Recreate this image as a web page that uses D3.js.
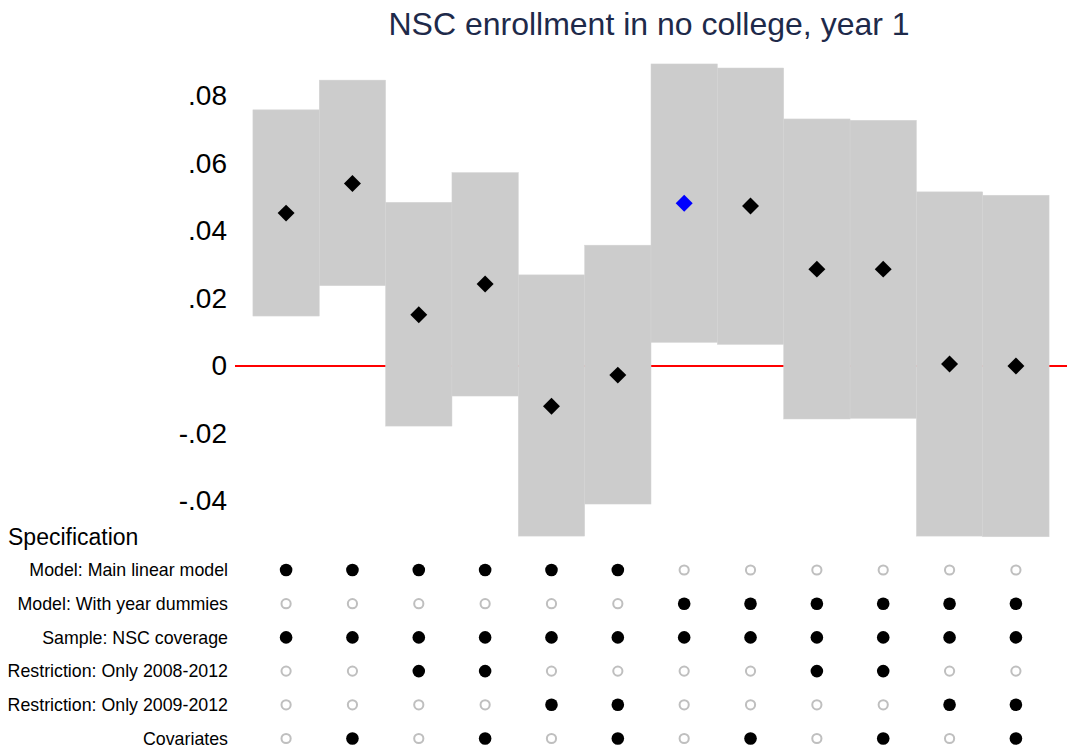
<!DOCTYPE html>
<html>
<head>
<meta charset="utf-8">
<script src="https://cdn.jsdelivr.net/npm/d3@7"></script>
<style>
  body { margin: 0; background: #fff; }
  svg { display: block; font-family: "Liberation Sans", Arial, sans-serif; }
</style>
</head>
<body>
<svg id="chart" width="1067" height="751"></svg>
<script>
// estimates and confidence bounds per specification
const estimates = [0.0453, 0.0541, 0.0152, 0.0243, -0.0119, -0.0027, 0.0482, 0.0474, 0.0287, 0.0287, 0.0006, 0.0000];
const ciLow     = [0.0148, 0.0238, -0.0178, -0.0089, -0.0504, -0.0409, 0.0070, 0.0064, -0.0157, -0.0155, -0.0504, -0.0506];
const ciHigh    = [0.0759, 0.0847, 0.0485, 0.0573, 0.0270, 0.0358, 0.0895, 0.0883, 0.0732, 0.0728, 0.0516, 0.0506];
const highlight = 6; // index of the main (blue) estimate

const yTicks = [-0.04, -0.02, 0, 0.02, 0.04, 0.06, 0.08];
const yTickLabels = ["-.04", "-.02", "0", ".02", ".04", ".06", ".08"];

const specLabels = [
  "Model: Main linear model",
  "Model: With year dummies",
  "Sample: NSC coverage",
  "Restriction: Only 2008-2012",
  "Restriction: Only 2009-2012",
  "Covariates"
];
const specMain     = [1,1,1,1,1,1,0,0,0,0,0,0];
const specDummies  = [0,0,0,0,0,0,1,1,1,1,1,1];
const specNSC      = [1,1,1,1,1,1,1,1,1,1,1,1];
const spec0812     = [0,0,1,1,0,0,0,0,1,1,0,0];
const spec0912     = [0,0,0,0,1,1,0,0,0,0,1,1];
const specCovar    = [0,1,0,1,0,1,0,1,0,1,0,1];
const specRows = [specMain, specDummies, specNSC, spec0812, spec0912, specCovar];

const svg = d3.select("#chart");
const cols = d3.range(estimates.length);

const x = d3.scaleBand()
  .domain(cols)
  .range([235, 1067])
  .paddingInner(0)
  .paddingOuter(0.27);

const y = d3.scaleLinear()
  .domain([-0.05, 0.09])
  .range([534.75, 62.25]);

// title
svg.append("text")
  .attr("x", 649)
  .attr("y", 35)
  .attr("text-anchor", "middle")
  .style("font-size", "32px")
  .style("fill", "#1e2a4a")
  .text("NSC enrollment in no college, year 1");

// zero line (under the bars)
svg.append("line")
  .attr("x1", 235).attr("x2", 1067)
  .attr("y1", y(0)).attr("y2", y(0))
  .attr("stroke", "#ff0000")
  .attr("stroke-width", 2);

// confidence bars
svg.append("g").selectAll("rect")
  .data(cols)
  .join("rect")
  .attr("x", i => x(i))
  .attr("width", x.bandwidth())
  .attr("y", i => y(ciHigh[i]))
  .attr("height", i => y(ciLow[i]) - y(ciHigh[i]))
  .attr("fill", "#cccccc")
  .attr("stroke", "#d4d4d4")
  .attr("stroke-width", 0.5);

// y axis
const yAxis = svg.append("g")
  .attr("transform", "translate(235,0)")
  .call(d3.axisLeft(y)
    .tickValues(yTicks)
    .tickSize(0)
    .tickPadding(8)
    .tickFormat((d, i) => yTickLabels[i]));
yAxis.select(".domain").remove();
yAxis.selectAll("text")
  .style("font-size", "28px")
  .style("font-family", "'Liberation Sans', Arial, sans-serif")
  .attr("fill", "#000");

// point estimates
const diamond = d3.symbol(d3.symbolSquare, 144);
svg.append("g").selectAll("path")
  .data(cols)
  .join("path")
  .attr("d", diamond)
  .attr("transform", i => `translate(${x(i) + x.bandwidth() / 2},${y(estimates[i])}) rotate(45)`)
  .attr("fill", i => i === highlight ? "#0000ff" : "#000");

// specification panel
svg.append("text")
  .attr("x", 8)
  .attr("y", 545)
  .style("font-size", "23px")
  .text("Specification");

const rowY = d3.scalePoint()
  .domain(d3.range(specLabels.length))
  .range([570, 738.5]);

svg.append("g").selectAll("text")
  .data(specLabels)
  .join("text")
  .attr("x", 228)
  .attr("y", (d, r) => rowY(r))
  .attr("dy", "0.35em")
  .attr("text-anchor", "end")
  .style("font-size", "17.8px")
  .text(d => d);

specRows.forEach((row, r) => {
  svg.append("g").selectAll("circle")
    .data(row)
    .join("circle")
    .attr("cx", (d, i) => x(i) + x.bandwidth() / 2)
    .attr("cy", rowY(r))
    .attr("r", d => d ? 6.3 : 4.6)
    .attr("fill", d => d ? "#000" : "none")
    .attr("stroke", d => d ? "none" : "#bfbfbf")
    .attr("stroke-width", 2);
});
</script>
</body>
</html>
